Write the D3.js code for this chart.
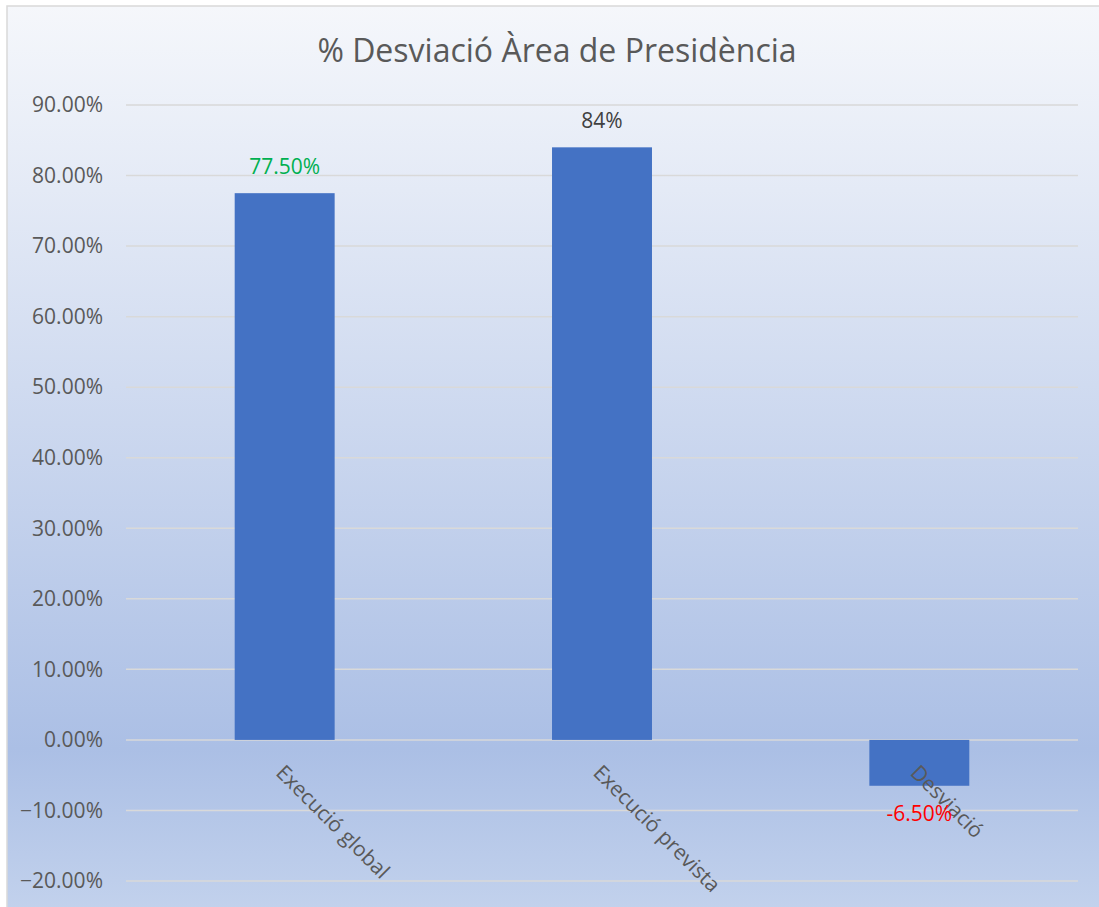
<!DOCTYPE html>
<html lang="ca">
<head>
<meta charset="utf-8">
<title>% Desviació Àrea de Presidència</title>
<script src="https://d3js.org/d3.v7.min.js"></script>
<style>
  html, body { margin: 0; padding: 0; background: #ffffff; }
  svg { display: block; font-family: "Open Sans", "Noto Sans", sans-serif; }
</style>
</head>
<body>
<div id="chart"></div>
<script>
// data
var categories = ["Execució global", "Execució prevista", "Desviació"];
var values = [0.775, 0.84, -0.065];
var valueLabels = ["77.50%", "84%", "-6.50%"];
var labelColors = ["#00b050", "#404040", "#ff0000"];
var tickValues = [0.9, 0.8, 0.7, 0.6, 0.5, 0.4, 0.3, 0.2, 0.1, 0, -0.1, -0.2];

var width = 1099, height = 907;
var margin = {left: 126, right: 21, top: 105, bottom: 26};

var svg = d3.select("#chart").append("svg")
    .attr("width", width)
    .attr("height", height);

// background gradient like the office chart
var grad = svg.append("defs").append("linearGradient")
    .attr("id", "bg")
    .attr("x1", 0).attr("y1", 0).attr("x2", 0).attr("y2", 1);
grad.append("stop").attr("offset", "0%").attr("stop-color", "#f5f7fb");
grad.append("stop").attr("offset", "20%").attr("stop-color", "#e4eaf6");
grad.append("stop").attr("offset", "81%").attr("stop-color", "#abbfe5");
grad.append("stop").attr("offset", "100%").attr("stop-color", "#c4d3ed");

svg.append("rect")
    .attr("x", 7).attr("y", 6)
    .attr("width", width + 10).attr("height", height + 10)
    .attr("fill", "url(#bg)")
    .attr("stroke", "#d9d9d9")
    .attr("stroke-width", 1.5);

var x = d3.scaleBand()
    .domain(categories)
    .range([margin.left, width - margin.right])
    .paddingInner(0.685)
    .paddingOuter(0.3425);

var y = d3.scaleLinear()
    .domain([-0.2, 0.9])
    .range([height - margin.bottom, margin.top]);

// gridlines
svg.append("g")
    .selectAll("line")
    .data(tickValues)
    .enter()
    .append("line")
    .attr("x1", margin.left)
    .attr("x2", width - margin.right)
    .attr("y1", function (d) { return y(d); })
    .attr("y2", function (d) { return y(d); })
    .attr("stroke", "#d9d9d9")
    .attr("stroke-width", 1.5);

// y axis labels
var yAxis = d3.axisLeft(y)
    .tickValues(tickValues)
    .tickSize(0)
    .tickPadding(23)
    .tickFormat(d3.format(".2%"));

var gy = svg.append("g")
    .attr("transform", "translate(" + margin.left + ",0)")
    .call(yAxis);
gy.select(".domain").remove();
gy.selectAll("text")
    .attr("fill", "#595959")
    .style("font-size", "21px")
    .style("font-family", "'Open Sans', 'Noto Sans', sans-serif");

// bars
svg.append("g")
    .selectAll("rect")
    .data(values)
    .enter()
    .append("rect")
    .attr("x", function (d, i) { return x(categories[i]); })
    .attr("width", x.bandwidth())
    .attr("y", function (d) { return y(Math.max(0, d)); })
    .attr("height", function (d) { return Math.abs(y(d) - y(0)); })
    .attr("fill", "#4472c4");

// x axis (category labels rotated)
var xAxis = d3.axisBottom(x).tickSize(0).tickPadding(0);
var gx = svg.append("g")
    .attr("transform", "translate(0," + y(0) + ")")
    .call(xAxis);
gx.select(".domain").remove();
gx.selectAll("text")
    .attr("fill", "#595959")
    .style("font-size", "21px")
    .style("font-family", "'Open Sans', 'Noto Sans', sans-serif")
    .attr("text-anchor", "start")
    .attr("dy", null)
    .attr("y", 0)
    .attr("transform", "translate(-10,34) rotate(45)");

// data labels
svg.append("g")
    .selectAll("text")
    .data(values)
    .enter()
    .append("text")
    .attr("x", function (d, i) { return x(categories[i]) + x.bandwidth() / 2; })
    .attr("y", function (d) { return d >= 0 ? y(d) - 19 : y(d) + 35; })
    .attr("text-anchor", "middle")
    .attr("fill", function (d, i) { return labelColors[i]; })
    .style("font-size", "21px")
    .text(function (d, i) { return valueLabels[i]; });

// title
svg.append("text")
    .attr("x", 557)
    .attr("y", 62)
    .attr("text-anchor", "middle")
    .attr("fill", "#595959")
    .style("font-size", "32px")
    .text("% Desviació Àrea de Presidència");
</script>
</body>
</html>
